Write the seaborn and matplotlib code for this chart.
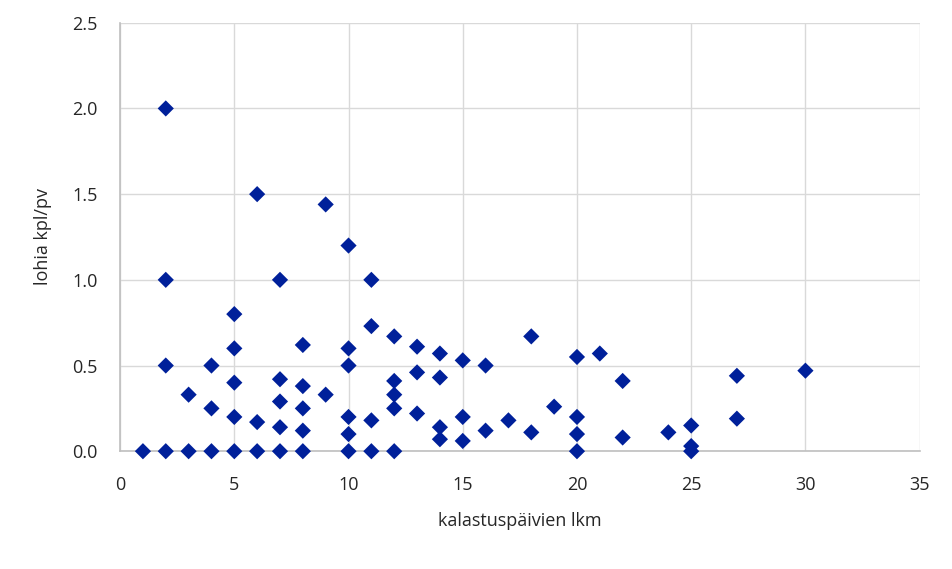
import pandas as pd
import seaborn as sns
import matplotlib.pyplot as plt

# fishing days per angler vs salmon caught per day
days = [1, 2, 2, 2, 2, 3, 3, 4, 4, 4,
        5, 5, 5, 5, 5, 6, 6, 6, 7, 7,
        7, 7, 7, 8, 8, 8, 8, 8, 9, 9,
        10, 10, 10, 10, 10, 10, 11, 11, 11, 11,
        12, 12, 12, 12, 12, 13, 13, 13, 14, 14,
        14, 14, 15, 15, 15, 16, 16, 17, 18, 18,
        19, 20, 20, 20, 20, 21, 22, 22, 24, 25,
        25, 25, 27, 27, 30]
catch = [0.0, 2.0, 1.0, 0.5, 0.0, 0.33, 0.0, 0.5, 0.25, 0.0,
         0.8, 0.6, 0.4, 0.2, 0.0, 1.5, 0.17, 0.0, 1.0, 0.42,
         0.29, 0.14, 0.0, 0.62, 0.38, 0.25, 0.12, 0.0, 1.44, 0.33,
         1.2, 0.6, 0.5, 0.2, 0.1, 0.0, 1.0, 0.73, 0.18, 0.0,
         0.67, 0.41, 0.33, 0.25, 0.0, 0.61, 0.46, 0.22, 0.57, 0.43,
         0.14, 0.07, 0.53, 0.2, 0.06, 0.5, 0.12, 0.18, 0.67, 0.11,
         0.26, 0.55, 0.2, 0.1, 0.0, 0.57, 0.41, 0.08, 0.11, 0.15,
         0.03, 0.0, 0.44, 0.19, 0.47]

df = pd.DataFrame({"days": days, "catch": catch})

sns.set_style("white")
plt.rcParams['font.family'] = ['Open Sans', 'DejaVu Sans']

fig = plt.figure(figsize=(9.53, 5.69), dpi=100)
ax = fig.add_axes([0.126, 0.207, 0.839, 0.753])

sns.scatterplot(data=df, x="days", y="catch", marker="D", s=68,
                color="#00209a", edgecolor="none", ax=ax, zorder=3, clip_on=False)

ax.set_xlim(0, 35)
ax.set_ylim(0, 2.5)
ax.set_xticks(range(0, 36, 5))
ax.set_yticks([0, 0.5, 1.0, 1.5, 2.0, 2.5])
ax.set_yticklabels(["0.0", "0.5", "1.0", "1.5", "2.0", "2.5"])
ax.grid(True, color="#d9d9d9", linewidth=1)
ax.set_axisbelow(True)

for side in ["top", "right"]:
    ax.spines[side].set_visible(False)
for side in ["left", "bottom"]:
    ax.spines[side].set_color("#bfbfbf")
    ax.spines[side].set_linewidth(1.2)

ax.tick_params(axis="x", length=0, labelsize=13, labelcolor="#262626", pad=18)
ax.tick_params(axis="y", length=0, labelsize=13, labelcolor="#262626", pad=16)
ax.set_xlabel("kalastuspäivien lkm", fontsize=13, color="#262626", labelpad=13)
ax.set_ylabel("lohia kpl/pv", fontsize=13, color="#262626", labelpad=15)

fig.savefig("out.png", dpi=100)
